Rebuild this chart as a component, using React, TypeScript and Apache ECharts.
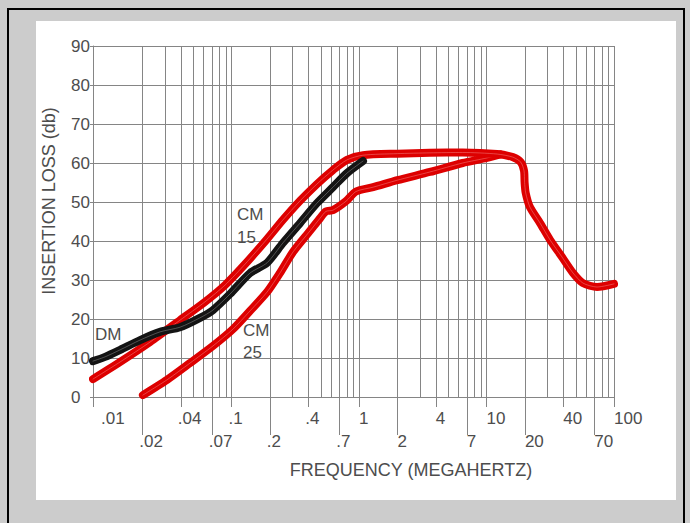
import React, { useEffect, useRef } from 'react';
import * as echarts from 'echarts';

// ---- axis extents ----
const X_MIN = 0.0082;
const X_MAX = 100;
const Y_MIN = 0;
const Y_MAX = 90;

// ---- DM (differential mode) ----
const dmFreq = [0.0082, 0.0102, 0.0134, 0.0192, 0.0275, 0.0395, 0.0566, 0.0716, 0.0973, 0.14, 0.19, 0.253, 0.345, 0.468, 0.625, 0.805, 1.075];
const dmLoss = [9.2, 10.3, 12.1, 14.6, 16.7, 17.9, 20.3, 22.3, 26.4, 31.8, 34.4, 39.5, 44.6, 49.7, 53.8, 57.4, 60.5];

// ---- CM 15 (common mode, upper red) ----
const cm15Freq = [0.0082, 0.0134, 0.023, 0.0395, 0.062, 0.089, 0.128, 0.19, 0.253, 0.345, 0.468, 0.625, 0.805, 1.075, 2.0, 3.6, 6.5, 12.1, 16.1, 18.6, 19.7, 19.9, 20.3, 21.9, 26.3, 31.5, 39.1, 47.7, 57.1, 73.6, 100];
const cm15Loss = [4.6, 9.0, 14.1, 19.7, 24.4, 28.7, 34.1, 40.5, 45.4, 50.3, 54.6, 58.2, 60.8, 62.0, 62.4, 62.6, 62.7, 62.3, 61.5, 60.2, 58.0, 55.0, 52.3, 48.7, 44.6, 40.3, 35.9, 31.8, 29.2, 28.2, 29.0];

// ---- CM 25 (common mode, lower red) ----
const cm25Freq = [0.0202, 0.0312, 0.0473, 0.0716, 0.1027, 0.14, 0.19, 0.24, 0.304, 0.413, 0.494, 0.551, 0.625, 0.791, 0.947, 1.29, 2.0, 3.6, 6.5, 10.1, 12.8];
const cm25Loss = [0.5, 4.4, 8.7, 13.1, 17.4, 22.1, 26.9, 31.8, 37.2, 42.6, 45.8, 47.6, 47.9, 50.2, 52.7, 53.8, 55.6, 57.7, 60.0, 61.3, 62.2];

// ---- vertical log grid lines ----
const gridFrequencies = [
  0.02, 0.03, 0.04, 0.05, 0.06, 0.07, 0.08, 0.09,
  0.1, 0.2, 0.3, 0.4, 0.5, 0.6, 0.7, 0.8, 0.9,
  1, 2, 3, 4, 5, 6, 7, 8, 9,
  10, 20, 30, 40, 50, 60, 70, 80, 90,
  100,
];

// ---- x tick labels (two staggered rows) ----
const topTickValues = [X_MIN, 0.04, 0.1, 0.4, 1, 4, 10, 40, 100];
const topLabelValues = [0.01, 0.04, 0.1, 0.4, 1, 4, 10, 40, 100];
const topLabels = ['.01', '.04', '.1', '.4', '1', '4', '10', '40', '100'];
const bottomTickValues = [0.02, 0.07, 0.2, 0.7, 2, 7, 20, 70];
const bottomLabels = ['.02', '.07', '.2', '.7', '2', '7', '20', '70'];

// ---- texts ----
const yTitle = 'INSERTION LOSS (db)';
const xTitle = 'FREQUENCY (MEGAHERTZ)';
const dmName = 'DM';
const cm15Name = 'CM\n15';
const cm25Name = 'CM\n25';

const FONT = '"Liberation Sans", Arial, Helvetica, sans-serif';
const TEXT_COLOR = '#4d4d4d';
const GRID_COLOR = '#858585';
const RED = '#dd0000';
const BLACK = '#141414';

const pairs = (xs: number[], ys: number[]) => xs.map((x, i) => [x, ys[i]]);

function textStyle(text: string, size: number, align = 'left', vAlign = 'middle', extra: any = {}) {
  return {
    text,
    fill: TEXT_COLOR,
    fontSize: size,
    fontFamily: FONT,
    align,
    verticalAlign: vAlign,
    textAlign: align,
    textVerticalAlign: vAlign,
    ...extra,
  };
}

function curveSeries(name: string, data: number[][], color: string, width: number, z: number, smooth: number) {
  return {
    name,
    type: 'line',
    data,
    showSymbol: false,
    symbol: 'none',
    smooth,
    z,
    silent: true,
    lineStyle: { color, width, cap: 'round', join: 'round' },
  };
}

function buildOption() {
  const dmData = pairs(dmFreq, dmLoss);
  const cm15Data = pairs(cm15Freq, cm15Loss);
  const cm25Data = pairs(cm25Freq, cm25Loss);

  return {
    animation: false,
    backgroundColor: 'transparent',
    grid: { left: 93, right: 76, top: 46, bottom: 126, containLabel: false },
    xAxis: {
      type: 'log',
      logBase: 10,
      min: X_MIN,
      max: X_MAX,
      axisLine: { show: true, lineStyle: { color: GRID_COLOR, width: 1 } },
      axisTick: { show: false },
      axisLabel: { show: false },
      splitLine: { show: false },
      minorTick: { show: false },
      minorSplitLine: { show: false },
    },
    yAxis: {
      type: 'value',
      min: Y_MIN,
      max: Y_MAX,
      interval: 10,
      axisLine: { show: true, lineStyle: { color: GRID_COLOR, width: 1 } },
      axisTick: { show: true, length: 3, lineStyle: { color: GRID_COLOR } },
      axisLabel: {
        color: TEXT_COLOR,
        fontSize: 17,
        fontFamily: FONT,
        align: 'left',
        margin: 22,
        padding: [0, 0, 5, 0],
      },
      splitLine: { show: true, lineStyle: { color: GRID_COLOR, width: 1 } },
    },
    series: [
      {
        name: 'grid',
        type: 'custom',
        clip: false,
        silent: true,
        z: 1,
        data: gridFrequencies.map((f) => [f, Y_MIN]),
        renderItem: (_params: any, api: any) => {
          const v = api.value(0);
          const p1 = api.coord([v, Y_MIN]);
          const p2 = api.coord([v, Y_MAX]);
          const x = Math.round(p1[0]) + 0.5;
          return {
            type: 'line',
            shape: { x1: x, y1: p1[1], x2: x, y2: p2[1] },
            style: { stroke: GRID_COLOR, lineWidth: 1 },
          };
        },
      },
      {
        name: 'topTicks',
        type: 'custom',
        clip: false,
        silent: true,
        z: 1,
        data: topLabelValues.map((f) => [f, Y_MIN]),
        renderItem: (params: any, api: any) => {
          const i = params.dataIndex;
          const tick = api.coord([topTickValues[i], Y_MIN]);
          const anchor = api.coord([api.value(0), Y_MIN]);
          const label = topLabels[i];
          const tx = Math.round(tick[0]) + 0.5;
          return {
            type: 'group',
            children: [
              { type: 'line', shape: { x1: tx, y1: tick[1], x2: tx, y2: tick[1] + 10 }, style: { stroke: GRID_COLOR, lineWidth: 1 } },
              { type: 'text', x: anchor[0] + (label.startsWith('.') ? -3 : 0), y: tick[1] + 21, style: textStyle(label, 17) },
            ],
          };
        },
      },
      {
        name: 'bottomTicks',
        type: 'custom',
        clip: false,
        silent: true,
        z: 1,
        data: bottomTickValues.map((f) => [f, Y_MIN]),
        renderItem: (params: any, api: any) => {
          const i = params.dataIndex;
          const tick = api.coord([api.value(0), Y_MIN]);
          const label = bottomLabels[i];
          const tx = Math.round(tick[0]) + 0.5;
          return {
            type: 'group',
            children: [
              { type: 'line', shape: { x1: tx, y1: tick[1], x2: tx, y2: tick[1] + 38 }, style: { stroke: GRID_COLOR, lineWidth: 1 } },
              { type: 'text', x: tick[0] + (label.startsWith('.') ? -3 : 0), y: tick[1] + 44, style: textStyle(label, 17) },
            ],
          };
        },
      },
      curveSeries('CM 25', cm25Data, RED, 8, 3, 0.25),
      curveSeries('CM 25 core', cm25Data, 'rgba(255,190,190,0.35)', 1, 4, 0.25),
      curveSeries('CM 15', cm15Data, RED, 8, 5, 0.25),
      curveSeries('CM 15 core', cm15Data, 'rgba(255,190,190,0.35)', 1, 6, 0.25),
      curveSeries('DM', dmData, BLACK, 8, 7, 0.25),
      curveSeries('DM core', dmData, 'rgba(200,200,200,0.35)', 1, 8, 0.25),
    ],
    graphic: [
      { type: 'text', x: 49, y: 201, rotation: Math.PI / 2, z: 10, style: textStyle(yTitle, 18, 'center', 'middle') },
      { type: 'text', x: 411, y: 470, z: 10, style: textStyle(xTitle, 18, 'center', 'middle') },
      { type: 'text', x: 95, y: 334, z: 10, style: textStyle(dmName, 17) },
      { type: 'text', x: 237, y: 226, z: 10, style: textStyle(cm15Name, 17, 'left', 'middle', { lineHeight: 23 }) },
      { type: 'text', x: 243, y: 341, z: 10, style: textStyle(cm25Name, 17, 'left', 'middle', { lineHeight: 22 }) },
    ],
  };
}

export default function App() {
  const ref = useRef<HTMLDivElement>(null);
  useEffect(() => {
    if (!ref.current) return;
    const chart = echarts.init(ref.current, null, { renderer: 'svg' });
    chart.setOption(buildOption() as any);
    return () => chart.dispose();
  }, []);
  return (
    <div style={{ position: 'fixed', left: 0, top: 0, width: 690, height: 523, background: '#cccccc', overflow: 'hidden' }}>
      <div style={{ position: 'absolute', left: 7, top: 8, width: 678, height: 600, border: '2px solid #000', boxSizing: 'border-box' }} />
      <div style={{ position: 'absolute', left: 36, top: 21, width: 640, height: 479, background: '#ffffff' }} />
      <div ref={ref} style={{ position: 'absolute', left: 0, top: 0, width: 690, height: 523 }} />
    </div>
  );
}
